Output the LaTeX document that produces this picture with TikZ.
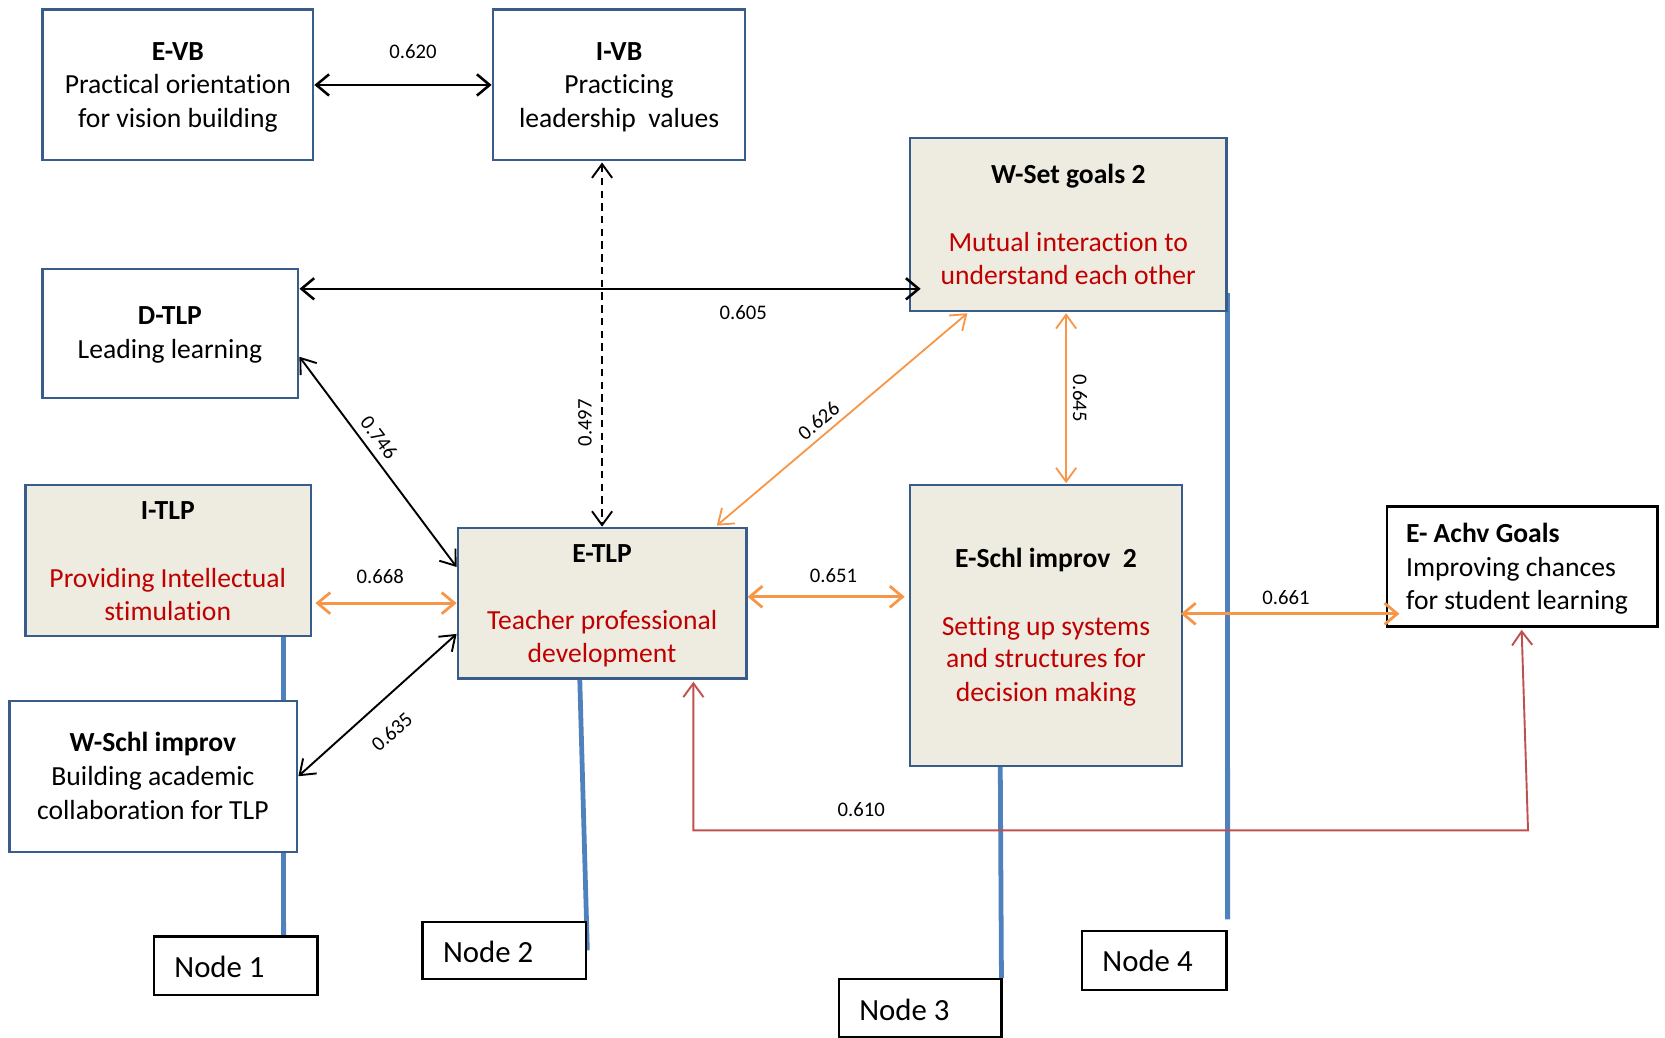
\documentclass[tikz,border=0pt]{standalone}
\usepackage{fontspec}
\setmainfont{Carlito}[Ligatures=NoCommon]
\usetikzlibrary{arrows.meta,backgrounds}
\definecolor{boxblue}{HTML}{385D8A}
\definecolor{tanfill}{HTML}{EEECE1}
\definecolor{redtext}{HTML}{C00000}
\definecolor{orangearr}{HTML}{F79646}
\definecolor{lineblue}{HTML}{4F81BD}
\definecolor{redarr}{HTML}{C0504D}
\begin{document}
\begin{tikzpicture}[x=1pt,y=-1pt,
  box/.style={draw=boxblue, line width=2pt, fill=white, inner sep=0pt},
  tanbox/.style={box, fill=tanfill},
  nodebox/.style={draw=black, line width=2.2pt, fill=white, inner sep=0pt},
  tl/.style={font=\fontsize{26}{31}\selectfont, anchor=base, inner sep=0pt},
  tb/.style={tl, font=\fontsize{26}{31}\selectfont\bfseries},
  tr/.style={tl, text=redtext},
  lab/.style={font=\fontsize{19.5}{21}\selectfont, inner sep=0pt},
  ntxt/.style={font=\fontsize{29}{32}\selectfont, inner sep=0pt, anchor=west},
  thickbarb/.style={{Straight Barb[length=12pt,width=20pt]}-{Straight Barb[length=12pt,width=20pt]}},
  thinbarb/.style={{Straight Barb[length=13pt,width=19pt]}-{Straight Barb[length=13pt,width=19pt]}},
  blk/.style={thickbarb, draw=black, line width=2.4pt},
  blkthin/.style={thinbarb, draw=black, line width=1.8pt},
  org/.style={thickbarb, draw=orangearr, line width=2.6pt},
  orgthin/.style={thinbarb, draw=orangearr, line width=1.7pt},
  redc/.style={thinbarb, draw=redarr, line width=1.8pt},
  blueline/.style={draw=lineblue, line width=4.5pt}
]
\useasboundingbox (0,0) rectangle (1568,977);

% boxes
\node[box, minimum width=255pt, minimum height=142pt] (evb) at (167.5,80) {};
\node[box, minimum width=238pt, minimum height=142pt] (ivb) at (583,80) {};
\node[tanbox, minimum width=298pt, minimum height=163pt] (wset) at (1006,211.5) {};
\node[box, minimum width=241pt, minimum height=122pt] (dtlp) at (160.5,314) {};
\node[tanbox, minimum width=269pt, minimum height=142pt] (itlp) at (158.5,528) {};
\node[tanbox, minimum width=272pt, minimum height=142pt] (etlp) at (567,568) {};
\node[box, minimum width=271pt, minimum height=142pt] (wschl) at (144.5,731) {};
\node[tanbox, minimum width=256pt, minimum height=264pt] (eschl) at (985,589) {};
\node[nodebox, minimum width=255pt, minimum height=113pt] (eachv) at (1433.5,533.5) {};
\node[nodebox, minimum width=154pt, minimum height=55pt] (node1) at (222,909.5) {};
\node[nodebox, minimum width=154pt, minimum height=54pt] (node2) at (475,895) {};
\node[nodebox, minimum width=153pt, minimum height=55pt] (node3) at (866.5,949.5) {};
\node[nodebox, minimum width=136pt, minimum height=55pt] (node4) at (1087,904.5) {};

% box texts
\node[tb] (evb1) at (167.5,57) {E-VB};
\node[tl] (evb2) at (167.5,88) {Practical orientation};
\node[tl] (evb3) at (167.5,120) {for vision building};

\node[tb] (ivb1) at (583,57) {I-VB};
\node[tl] (ivb2) at (583,88) {Practicing};
\node[tl] (ivb3) at (583,120) {leadership\ \ values};

\node[tb] (wset1) at (1006,173) {W-Set goals 2};
\node[tr] (wset2) at (1006,237) {Mutual interaction to};
\node[tr] (wset3) at (1006,268) {understand each other};

\node[tb] (dtlp1) at (160,306) {D-TLP};
\node[tl] (dtlp2) at (160,338) {Leading learning};

\node[tb] (itlp1) at (158,489) {I-TLP};
\node[tr] (itlp2) at (158,553) {Providing Intellectual};
\node[tr] (itlp3) at (158,584) {stimulation};

\node[tb] (etlp1) at (567,530) {E-TLP};
\node[tr] (etlp2) at (567,593) {Teacher professional};
\node[tr] (etlp3) at (567,624) {development};

\node[tb] (wschl1) at (144,708) {W-Schl improv};
\node[tl] (wschl2) at (144,740) {Building academic};
\node[tl] (wschl3) at (144,772) {collaboration for TLP};

\node[tb] (eschl1) at (985,534) {E-Schl improv\ \ 2};
\node[tr] (eschl2) at (985,598) {Setting up systems};
\node[tr] (eschl3) at (985,629) {and structures for};
\node[tr] (eschl4) at (985,661) {decision making};

\node[tb, anchor=base west] (eachv1) at (1324,511) {E- Achv Goals};
\node[tl, anchor=base west] (eachv2) at (1324,543) {Improving chances};
\node[tl, anchor=base west] (eachv3) at (1324,574) {for student learning};

\node[ntxt] (n1t) at (164,911) {Node 1};
\node[ntxt] (n2t) at (417,896) {Node 2};
\node[ntxt] (n3t) at (809,951) {Node 3};
\node[ntxt] (n4t) at (1038,905) {Node 4};

% blue lines (behind)
\begin{pgfonlayer}{background}
\draw[blueline] ([xshift=-27pt]itlp.south east) -- ([xshift=-14pt]wschl.north east);
\draw[blueline] ([xshift=-14pt]wschl.south east) -- ([xshift=-33pt]node1.north east);
\draw[blueline] ([xshift=-21pt]etlp.south) -- (node2.east);
\draw[blueline] ([xshift=-43pt]eschl.south) -- ([xshift=-1pt]node3.north east);
\draw[blueline] ([yshift=18pt]wset.south east) -- ([yshift=10pt]node4.north east);
\end{pgfonlayer}

% connectors
\draw[blk] (evb.east) -- (ivb.west);
\draw[blk] ([yshift=42pt]dtlp.east) -- ([xshift=11pt,yshift=-60.5pt]wset.west);
\draw[blkthin, dashed, dash pattern=on 7pt off 5pt] ([yshift=-1pt]ivb.south -| etlp.north) -- (etlp.north);
\draw[blkthin] ([yshift=-22pt]dtlp.east) -- ([yshift=34pt]etlp.west);
\draw[blkthin] (wschl.east) -- ([yshift=-29pt]etlp.west);
\draw[org] ([xshift=3pt]itlp.east |- etlp.west) -- (etlp.west);
\draw[orgthin] ([xshift=-29pt,yshift=1pt]etlp.north east) -- ([xshift=55pt,yshift=-1pt]wset.south west);
\draw[orgthin] ([xshift=-2pt,yshift=-1pt]wset.south) -- ([xshift=-2pt,yshift=1pt]wset.south |- eschl.north);
\draw[org] ([yshift=6pt]etlp.east) -- ([xshift=-4pt,yshift=27pt]eschl.west);
\draw[org] ([xshift=-2pt,yshift=11pt]eschl.east) -- ([xshift=13pt,yshift=-44.5pt]eachv.west);
\draw[redc] ([xshift=-51pt,yshift=-2pt]etlp.south east) -- ++(0,140) -- ++(786,0) -- ([xshift=-0.5pt,yshift=-2pt]eachv.south);

% labels
\node[lab] (l620) at (389,49) {0.620};
\node[lab] (l605) at (700,294) {0.605};
\node[lab, rotate=90] (l497) at (551,398) {0.497};
\node[lab, rotate=-53] (l746) at (357,412) {0.746};
\node[lab] (l668) at (358,543) {0.668};
\node[lab, rotate=41.6] (l635) at (369,689) {0.635};
\node[lab, rotate=40.3] (l626) at (771,396) {0.626};
\node[lab, rotate=-90] (l645) at (1017,375) {0.645};
\node[lab] (l651) at (785,542) {0.651};
\node[lab] (l661) at (1211,563) {0.661};
\node[lab] (l610) at (811,762) {0.610};
\end{tikzpicture}
\end{document}
